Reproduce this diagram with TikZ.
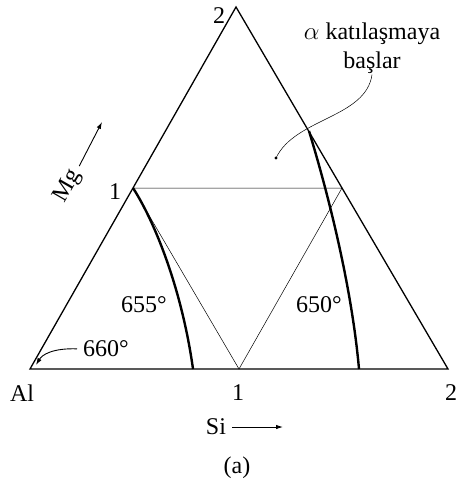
\documentclass[tikz,border=0pt]{standalone}
\usepackage{fontspec}
\setmainfont{Liberation Serif}
\usetikzlibrary{arrows.meta,positioning,calc}
\tikzset{
	frame/.style={line width=1.3pt},% outer triangle
	thinline/.style={line width=0.5pt},
	liquidus/.style={line width=2.4pt},% thick boundary curves
	lbl/.style={font=\fontsize{24}{29}\selectfont, inner sep=1pt},
	pointer/.style={-{Latex[length=7pt,width=4.5pt]}, line width=0.9pt, shorten <=5pt}
}
\begin{document}
\begin{tikzpicture}[x=1pt,y=-1pt]
	\useasboundingbox (0,0) rectangle (457,484);
	% corners and mid points
	\coordinate (Al) at (30,369);
	\coordinate (T) at (236,7);
	\coordinate (R) at (448,369);
	\coordinate (L1) at (133,188);
	\coordinate (R1) at (342,188);
	\coordinate (B1) at (239,369);
	\draw[frame] (Al) -- (T) -- (R) -- cycle;
	\draw[thinline] (L1) -- (R1) -- (B1) -- cycle;
	% liquidus curves
	\draw[liquidus] (L1) .. controls (155,222) and (182,290) .. (193,369);
	\draw[liquidus] (309,131) .. controls (330,200) and (352,290) .. (359,369);
	% labels
	\node[lbl] (top2) at (219,16) {2};
	\node[lbl] (left1) at (115,192) {1};
	\node[lbl] (al) at (22,393) {Al};
	\node[lbl] (base1) at (238,393) {1};
	\node[lbl, anchor=west] (base2) at (444,393) {2};
	\node[lbl] (t655) at (144,305) {655°};
	\node[lbl] (t650) at (319,305) {650°};
	\node[lbl] (t660) at (106,349) {660°};
	\node[lbl] (cap) at (237,468) {(a)};
	\node[lbl, align=center] (note) at (372,48) {$\alpha$ katılaşmaya\\başlar};
	\node[lbl, rotate=60] (mg) at (68,186) {Mg};
	\node[lbl] (si) at (216,427) {Si};
	\coordinate (mgtip) at (102,122);
	\coordinate (sitip) at (283,427);
	\coordinate (altip) at (36,365);
	\coordinate (dot) at (276,158);
	% pointers
	\draw[pointer] (mg.east) -- (mgtip);
	\draw[pointer] (si.east) -- (sitip);
	\draw[pointer] (t660.west) .. controls (52,348) and (42,355) .. (altip);
	\draw[thinline] (note.south) .. controls (366,118) and (295,118) .. (dot);
	\fill (dot) circle (1.6pt);
\end{tikzpicture}
\end{document}
